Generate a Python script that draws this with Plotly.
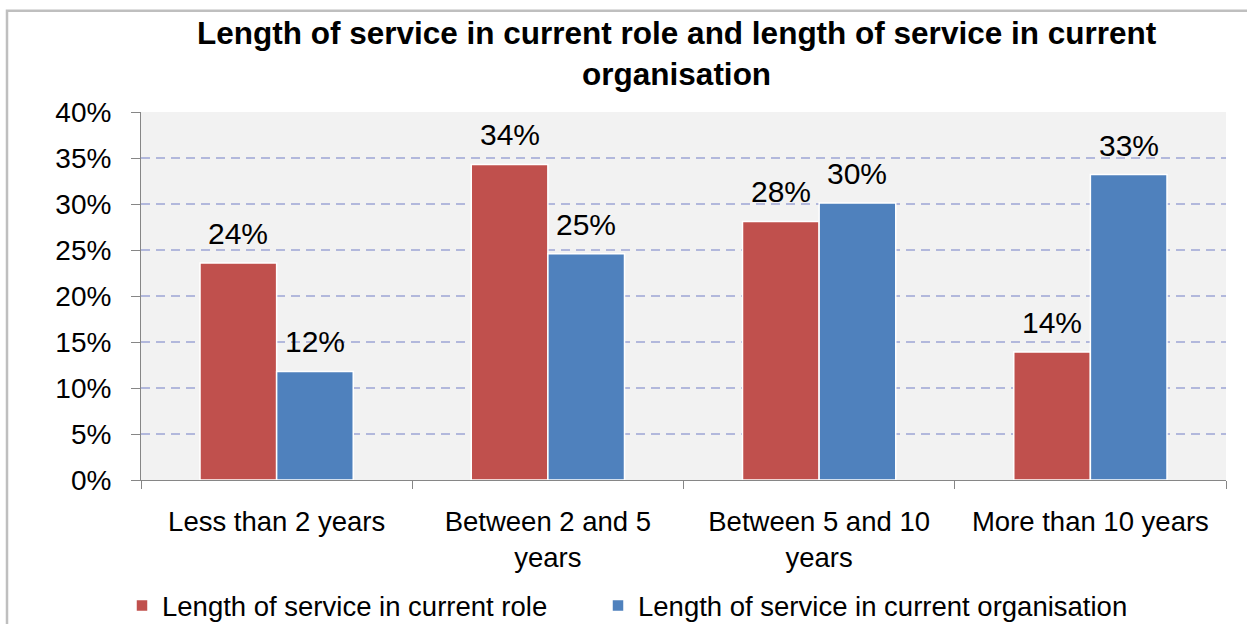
import plotly.graph_objects as go

# ---- data ----
categories = [
    "Less than 2 years",
    "Between 2 and 5<br>years",
    "Between 5 and 10<br>years",
    "More than 10 years",
]
role_pct = [23.6, 34.3, 28.1, 13.9]
org_pct = [11.8, 24.6, 30.1, 33.2]
series_names = [
    "Length of service in current role",
    "Length of service in current organisation",
]
y_ticks = [0, 5, 10, 15, 20, 25, 30, 35, 40]
y_tick_labels = [f"{t}%" for t in y_ticks]
title_text = "Length of service in current role and length of service in current<br>organisation"

# ---- style ----
W, H = 1247, 624
ML, MR, MT, MB = 141, 21, 111.5, 143.5
PLOT_W = W - ML - MR
PLOT_H = H - MT - MB
BARGAP = 0.435
RED = "#C0504D"
BLUE = "#4F81BD"
FONT = "Liberation Sans, Arial, sans-serif"
LEGEND_FONT = dict(size=27.5, family=FONT, color="#000000")


def px_to_paper_x(px):
    return (px - ML) / PLOT_W


def px_to_paper_y(py):
    return (H - MB - py) / PLOT_H


fig = go.Figure()
for name, vals, col, leg in [
    (series_names[0], role_pct, RED, "legend"),
    (series_names[1], org_pct, BLUE, "legend2"),
]:
    fig.add_trace(go.Bar(
        x=categories, y=vals, name=name, legend=leg, showlegend=True,
        marker=dict(color=col, line=dict(color="white", width=1.5)),
        hoverinfo="skip",
    ))

# value labels above each bar
bar_px = PLOT_W / len(categories) * (1 - BARGAP) / 2
annotations = []
for side, vals in [(-1, role_pct), (1, org_pct)]:
    for cat, v in zip(categories, vals):
        annotations.append(dict(
            x=cat, y=v, xref="x", yref="y",
            text=f"{round(v)}%", showarrow=False,
            xshift=side * bar_px / 2, yshift=11, yanchor="bottom",
            font=dict(size=30, color="#000000", family=FONT),
        ))

# chart title
annotations.append(dict(
    x=px_to_paper_x(676.5), y=px_to_paper_y(12), xref="paper", yref="paper",
    xanchor="center", yanchor="top", showarrow=False,
    text=f"<b>{title_text}</b>",
    font=dict(size=31.5, family=FONT, color="#000000"),
))

legend_common = dict(
    orientation="h", xanchor="left",
    y=1 - 581 / H, yref="container", yanchor="top",
    font=LEGEND_FONT, bgcolor="rgba(0,0,0,0)",
)

fig.update_layout(
    width=W, height=H,
    margin=dict(l=ML, r=MR, t=MT, b=MB, pad=0, autoexpand=False),
    showlegend=True,
    paper_bgcolor="white",
    plot_bgcolor="#F2F2F2",
    barmode="group",
    bargap=BARGAP,
    bargroupgap=0,
    font=dict(family=FONT, color="#000000"),
    legend=dict(x=px_to_paper_x(122), visible=True, **legend_common),
    legend2=dict(x=px_to_paper_x(598), visible=True, **legend_common),
    annotations=annotations,
    shapes=[dict(
        type="rect", xref="paper", yref="paper",
        x0=px_to_paper_x(7), x1=px_to_paper_x(W + 10),
        y0=px_to_paper_y(H + 10), y1=px_to_paper_y(10),
        line=dict(color="#BFBFBF", width=2.5), fillcolor="rgba(0,0,0,0)",
        layer="above",
    )],
)

fig.update_yaxes(
    range=[0, 40], tickvals=y_ticks, ticktext=y_tick_labels,
    showgrid=True, gridcolor="#B2B8DC", gridwidth=2, griddash="9px,6px",
    zeroline=False,
    showline=True, linecolor="#868686", linewidth=1,
    ticks="outside", ticklen=9, tickcolor="#868686",
    ticklabelstandoff=14,
    tickfont=dict(size=28, family=FONT, color="#000000"),
)
fig.update_xaxes(
    showline=True, linecolor="#868686", linewidth=1,
    ticks="outside", ticklen=8, tickcolor="#868686",
    tickson="boundaries",
    showgrid=False,
    ticklabelstandoff=17,
    tickfont=dict(size=27.5, family=FONT, color="#000000"),
)

fig.write_html("out.html")
